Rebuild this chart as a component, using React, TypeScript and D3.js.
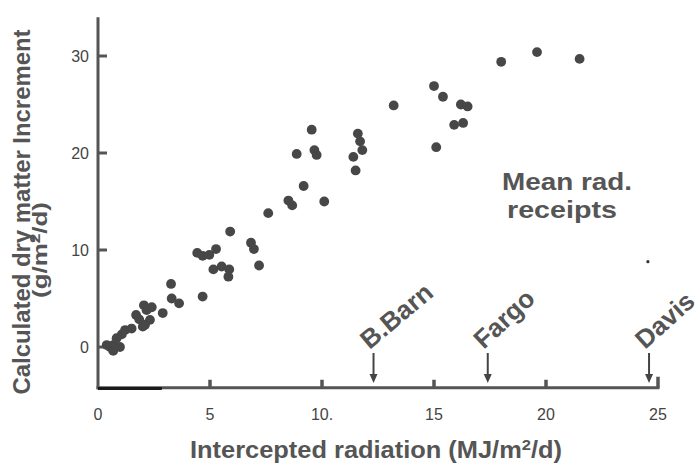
import * as d3 from "d3";

// intercepted radiation (MJ/m2/d) vs calculated dry matter increment (g/m2/d)
const radX = [
  0.39, 0.54, 0.68, 0.68, 0.98, 0.83, 1.06, 1.21, 1.5, 1.7, 1.84, 2.0, 2.1, 2.05, 2.17, 2.32, 2.4, 2.89,
  3.26, 3.29, 3.62, 4.67, 4.43, 4.67, 4.97, 5.27, 5.15, 5.52, 5.86, 5.82, 5.9, 6.83, 6.96, 7.19, 7.6,
  8.5, 8.67, 8.87, 9.18, 9.54, 9.66, 9.76, 10.1, 11.4, 11.5, 11.6, 11.7, 11.8, 13.2, 15.0, 15.1, 15.4,
  15.9, 16.2, 16.3, 16.5, 18.0, 19.6, 21.5,
];
const dmY = [
  0.2, 0.0, 0.2, -0.4, 0.0, 0.9, 1.3, 1.75, 1.9, 3.3, 2.85, 2.1, 2.3, 4.3, 3.8, 2.8, 4.1, 3.5,
  6.5, 5.0, 4.5, 5.2, 9.7, 9.4, 9.5, 10.1, 8.0, 8.3, 8.0, 7.25, 11.9, 10.75, 10.1, 8.4, 13.8,
  15.1, 14.6, 19.9, 16.6, 22.4, 20.3, 19.8, 15.0, 19.6, 18.2, 22.0, 21.2, 20.3, 24.9, 26.9, 20.6, 25.8,
  22.9, 25.0, 23.1, 24.8, 29.4, 30.4, 29.7,
];

const xTickValues = [0, 5, 10, 15, 20, 25];
const xTickLabels = ["0", "5", "10.", "15", "20", "25"];
const yTickValues = [0, 10, 20, 30];

const stations = ["B.Barn", "Fargo", "Davis"];
const stationRad = [12.3, 17.4, 24.6];
const stationAngle = [-40, -43, -42];

const gray = "#555";
const font = "'Liberation Sans', Arial, Helvetica, sans-serif";

export default function App() {
  const width = 700;
  const height = 472;
  const x = d3.scaleLinear().domain([0, 25]).range([98, 658]);
  const y = d3.scaleLinear().domain([0, 30]).range([347, 56]);
  const yBottom = y(-4.2);
  const yTop = y(34);

  return (
    <svg
      width={width}
      height={height}
      style={{ position: "absolute", left: 0, top: 0, background: "#fff" }}
      fontFamily={font}
    >
      {/* axes */}
      <line x1={x(0)} x2={x(0)} y1={yTop} y2={yBottom + 1.5} stroke={gray} strokeWidth={3} />
      <line x1={x(0) - 1.5} x2={x(25) + 1.5} y1={yBottom} y2={yBottom} stroke={gray} strokeWidth={3} />
      <line x1={x(0)} x2={x(2.85)} y1={yBottom + 0.8} y2={yBottom + 0.8} stroke="#1a1a1a" strokeWidth={3} />
      {xTickValues.slice(1).map((v) => (
        <line key={v} x1={x(v)} x2={x(v)} y1={yBottom} y2={yBottom - (v === 25 ? 11 : 8)} stroke={gray} strokeWidth={3.5} />
      ))}
      {yTickValues.map((v) => (
        <line key={v} x1={x(0)} x2={x(0) + 9} y1={y(v)} y2={y(v)} stroke={gray} strokeWidth={3} />
      ))}

      {xTickValues.map((v, i) => (
        <text key={v} x={x(v)} y={420} textAnchor="middle" fontSize={16} fill="#444">
          {xTickLabels[i]}
        </text>
      ))}
      {yTickValues.map((v) => (
        <text key={v} x={89} y={y(v) + 6} textAnchor="end" fontSize={16} fill="#444">
          {v}
        </text>
      ))}

      {/* points */}
      {radX.map((v, i) => (
        <circle key={i} cx={x(v)} cy={y(dmY[i])} r={4.9} fill="#474747" />
      ))}
      <circle cx={x(24.55)} cy={y(8.8)} r={1.6} fill="#333" />

      {/* station arrows */}
      {stations.map((s, i) => {
        const sx = x(stationRad[i]);
        return (
          <g key={s}>
            <line x1={sx} x2={sx} y1={353} y2={378} stroke="#444" strokeWidth={2} />
            <path d={`M${sx - 4},${374} L${sx + 4},${374} L${sx},${383} Z`} fill="#444" />
            <text
              transform={`translate(${sx - 4},${350}) rotate(${stationAngle[i]})`}
              fontSize={26}
              fontWeight="bold"
              fill={gray}
            >
              {s}
            </text>
          </g>
        );
      })}

      <text x={502} y={190} fontSize={24} fontWeight="bold" fill={gray} textLength={130} lengthAdjust="spacingAndGlyphs">
        Mean rad.
      </text>
      <text x={507} y={218} fontSize={24} fontWeight="bold" fill={gray} textLength={110} lengthAdjust="spacingAndGlyphs">
        receipts
      </text>

      {/* axis titles */}
      <text x={190} y={458} fontSize={23} fontWeight="bold" fill={gray} textLength={372} lengthAdjust="spacingAndGlyphs">
        Intercepted radiation (MJ/m<tspan dy={-8} fontSize={15}>2</tspan>
        <tspan dy={8}>/d)</tspan>
      </text>
      <text
        transform="translate(30,212) rotate(-90)"
        textAnchor="middle"
        fontSize={24}
        fontWeight="bold"
        fill={gray}
        textLength={365}
        lengthAdjust="spacingAndGlyphs"
      >
        Calculated dry matter Increment
      </text>
      <text
        transform="translate(47,250) rotate(-90)"
        textAnchor="middle"
        fontSize={21}
        fontWeight="bold"
        fill={gray}
        textLength={96}
        lengthAdjust="spacingAndGlyphs"
      >
        (g/m<tspan dy={-7} fontSize={14}>2</tspan>
        <tspan dy={7}>/d)</tspan>
      </text>
    </svg>
  );
}
